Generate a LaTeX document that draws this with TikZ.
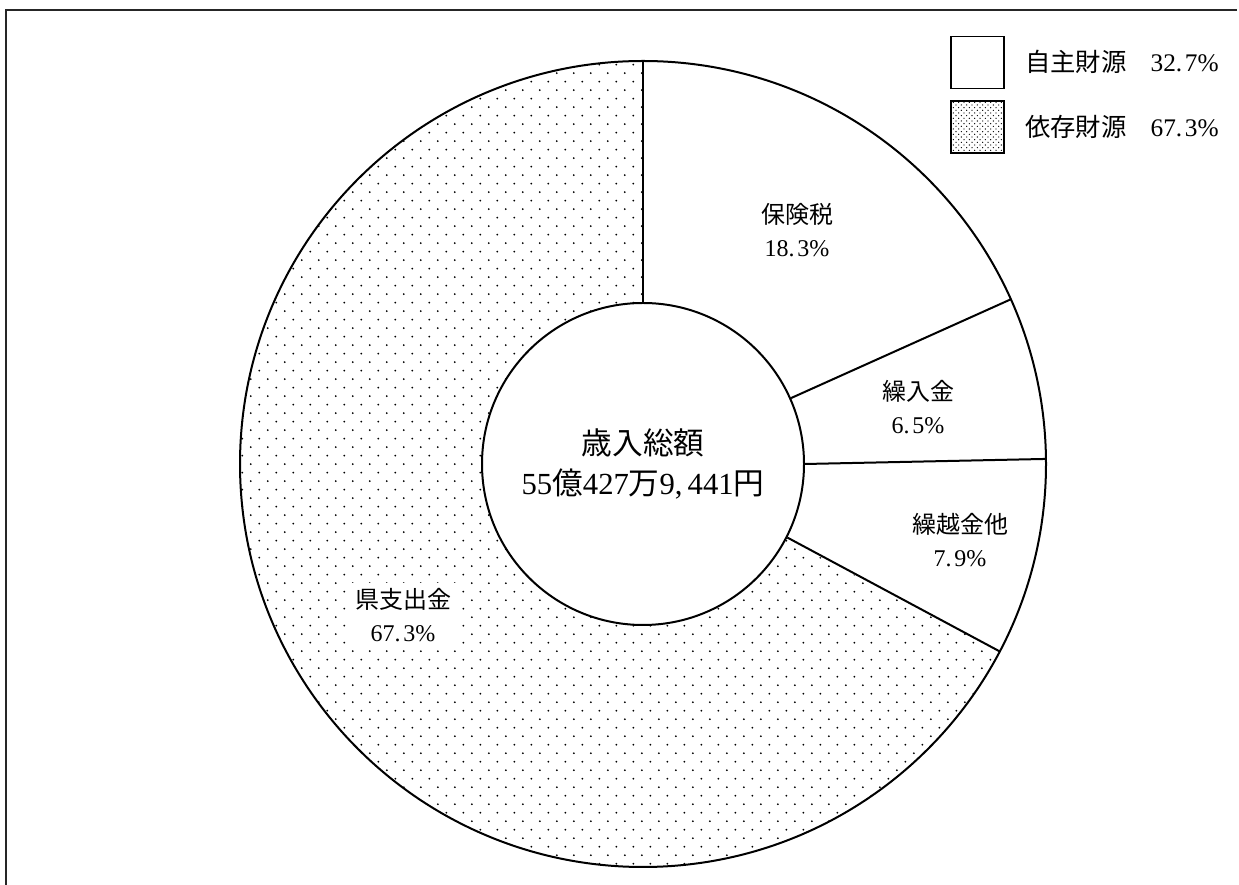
\documentclass[tikz,border=0pt]{standalone}
\usepackage{fontspec}
\setmainfont{Liberation Serif}
\newfontfamily\cjk{Noto Sans CJK JP}
\usetikzlibrary{patterns}
\pgfdeclarepatternformonly{piedots}{\pgfpoint{-1pt}{-1pt}}{\pgfpoint{13.75pt}{13.75pt}}{\pgfpoint{12.75pt}{12.75pt}}{%
  \pgfpathcircle{\pgfpoint{3.1875pt}{3.1875pt}}{0.75pt}%
  \pgfpathcircle{\pgfpoint{9.5625pt}{9.5625pt}}{0.75pt}%
  \pgfusepath{fill}}
\pgfdeclarepatternformonly{legenddots}{\pgfpoint{-1pt}{-1pt}}{\pgfpoint{5pt}{5pt}}{\pgfpoint{4pt}{4pt}}{%
  \pgfpathcircle{\pgfpoint{1pt}{1pt}}{0.5pt}%
  \pgfpathcircle{\pgfpoint{3pt}{3pt}}{0.5pt}%
  \pgfusepath{fill}}
\newcommand{\pd}{.\kern2pt}
\tikzset{
  pieline/.style={line width=1.5pt, black},
  lbl/.style={align=center, inner sep=0pt, font=\fontsize{18}{24.75}\selectfont},
  legtext/.style={anchor=west, inner sep=0pt, font=\fontsize{19}{22}\selectfont},
  legbox/.style={draw, line width=1.3pt, minimum width=39.75pt, minimum height=39pt, inner sep=0pt},
}
\begin{document}
\begin{tikzpicture}[x=0.75pt,y=0.75pt]
\useasboundingbox (0,0) rectangle (1239,885);
% frame
\draw[line width=1.3pt, black!85] (6,0) -- (6,875) -- (1237,875);
\begin{scope}[shift={(643,421)}]
  \coordinate (C) at (0,0);
  % dotted sector (県支出金)
  \fill[pattern=piedots] (90:403) arc[start angle=90, end angle=332.28, radius=403]
     -- (332.28:161) arc[start angle=332.28, end angle=90, radius=161] -- cycle;
  % outer circle
  \draw[pieline] (C) circle[radius=403];
  \coordinate (o0) at (90:403);
  \coordinate (o1) at (24.12:403);
  \coordinate (o2) at (0.72:403);
  \coordinate (o3) at (-27.72:403);
  % hub
  \node[circle, draw, pieline, fill=white, minimum size=241.5pt, inner sep=0pt,
        align=center, font=\fontsize{23}{30}\selectfont] (hub) at (C)
        {{\cjk 歳入総額}\\55{\cjk 億}427{\cjk 万}9,\,441{\cjk 円}};
  \draw[pieline] (hub.90) -- (o0);
  \draw[pieline] (hub.24.12) -- (o1);
  \draw[pieline] (hub.0.72) -- (o2);
  \draw[pieline] (hub.-27.72) -- (o3);
\end{scope}
% labels
\node[lbl] (hoken) at (797,655) {{\cjk 保険税}\\18\pd 3\%};
\node[lbl] (kurii) at (918,478) {{\cjk 繰入金}\\6\pd 5\%};
\node[lbl] (kurik) at (960,345) {{\cjk 繰越金他}\\7\pd 9\%};
\node[lbl, fill=white, inner xsep=5pt, inner ysep=4pt] (ken) at (403,270) {{\cjk 県支出金}\\67\pd 3\%};
% legend
\node[legbox] (lb1) at (977.5,822.5) {};
\node[legbox, pattern=legenddots] (lb2) at (977.5,758) {};
\node[legtext] (lt1) at (1025,823) {{\cjk 自主財源}\hspace{18pt}32\pd 7\%};
\node[legtext] (lt2) at (1025,758) {{\cjk 依存財源}\hspace{18pt}67\pd 3\%};
\end{tikzpicture}
\end{document}
